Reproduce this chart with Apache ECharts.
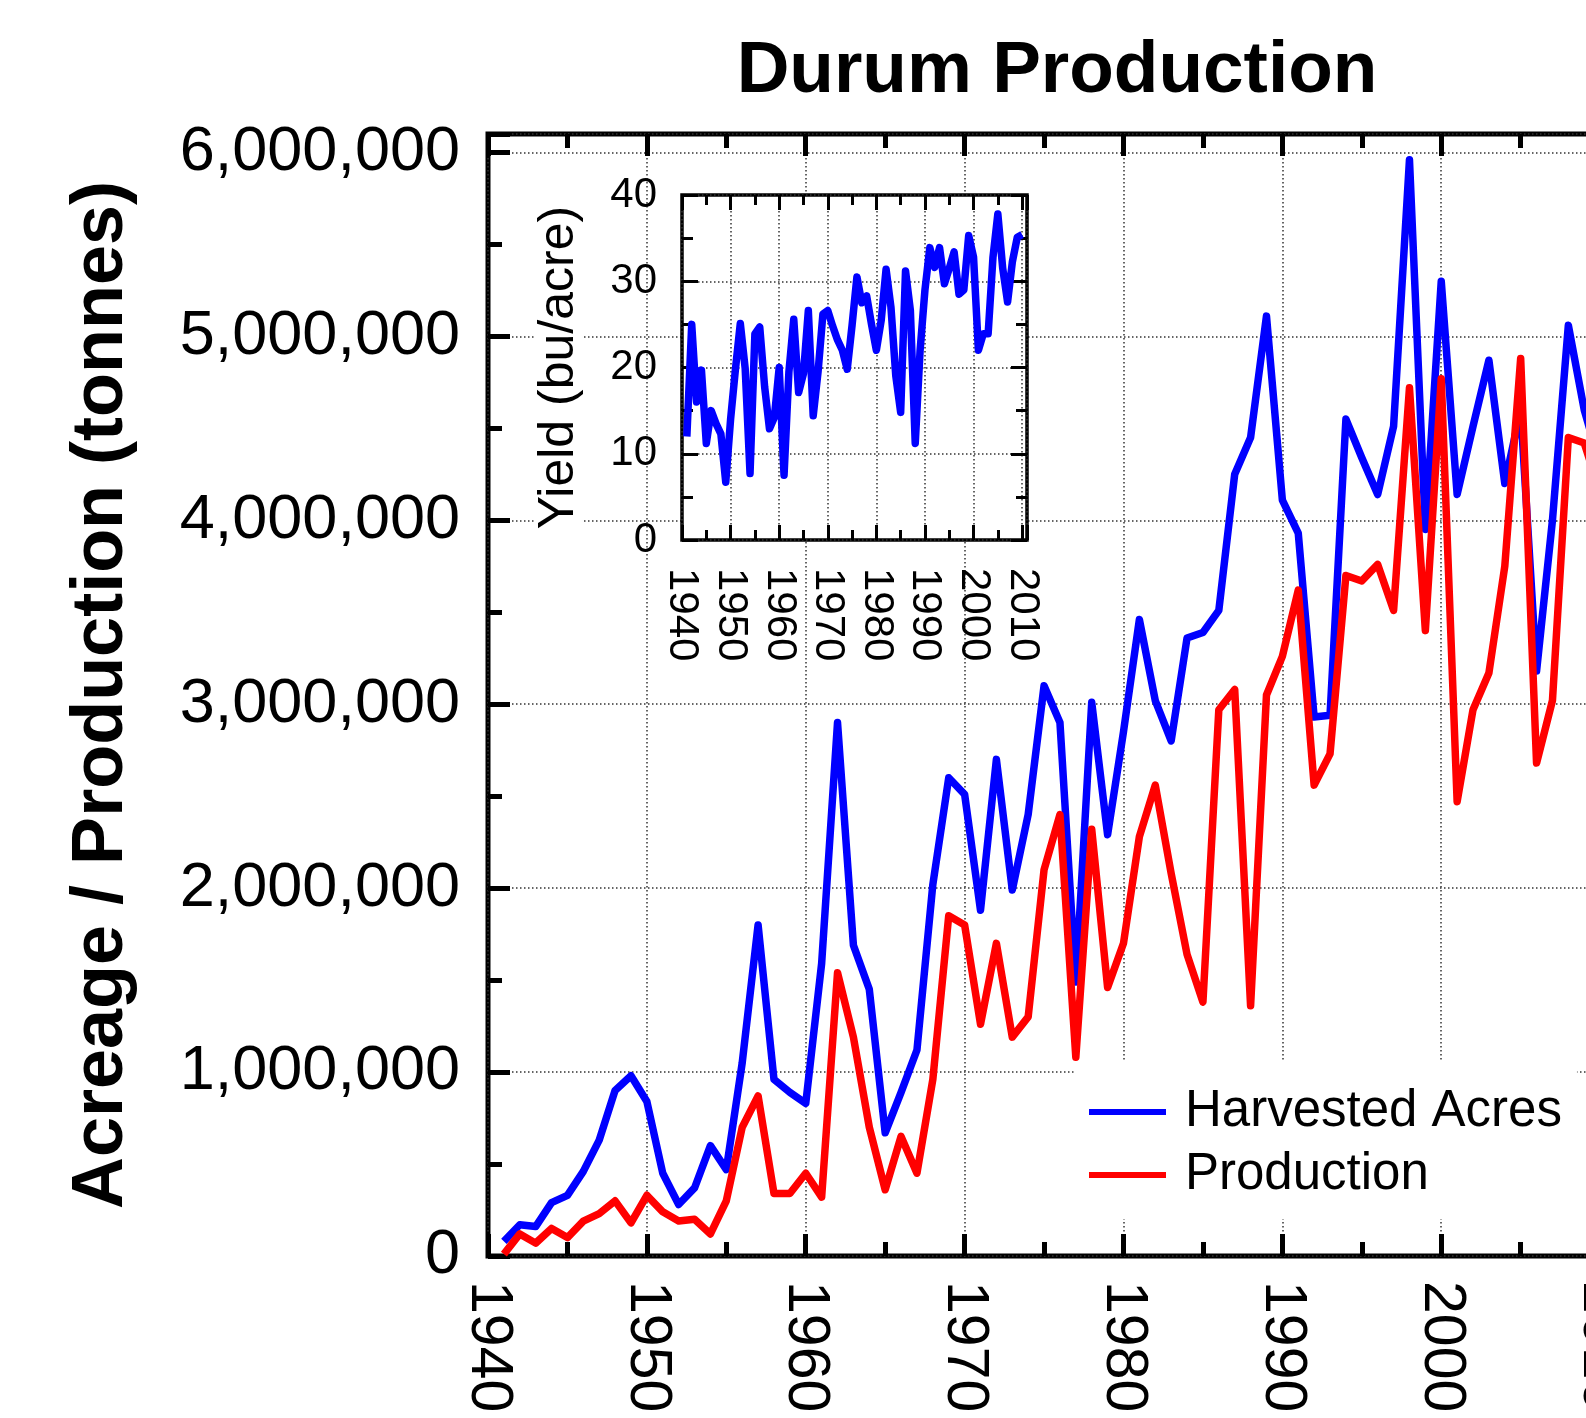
<!DOCTYPE html>
<html>
<head>
<meta charset="utf-8">
<title>Durum Production</title>
<script src="https://cdn.jsdelivr.net/npm/echarts@6/dist/echarts.min.js"></script>
<style>
  html, body { margin: 0; padding: 0; background: #fff; overflow: hidden; }
  /* the plot runs on past the right edge of the window, like the original */
  #chart { width: 1700px; height: 1418px; }
</style>
</head>
<body>
<div id="chart"></div>
<script>
var years = [
  1941, 1942, 1943, 1944, 1945, 1946, 1947, 1948, 1949, 1950,
  1951, 1952, 1953, 1954, 1955, 1956, 1957, 1958, 1959, 1960,
  1961, 1962, 1963, 1964, 1965, 1966, 1967, 1968, 1969, 1970,
  1971, 1972, 1973, 1974, 1975, 1976, 1977, 1978, 1979, 1980,
  1981, 1982, 1983, 1984, 1985, 1986, 1987, 1988, 1989, 1990,
  1991, 1992, 1993, 1994, 1995, 1996, 1997, 1998, 1999, 2000,
  2001, 2002, 2003, 2004, 2005, 2006, 2007, 2008, 2009, 2010
];
var harvestedAcres = [
  80000, 170000, 160000, 290000, 330000, 460000, 630000, 900000, 980000, 840000,
  450000, 280000, 370000, 600000, 470000, 1050000, 1800000, 960000, 890000, 830000,
  1590000, 2900000, 1690000, 1450000, 670000, 890000, 1120000, 2020000, 2600000, 2510000,
  1880000, 2700000, 1990000, 2400000, 3100000, 2900000, 1490000, 3010000, 2290000, 2850000,
  3460000, 3020000, 2800000, 3360000, 3390000, 3510000, 4250000, 4450000, 5110000, 4110000,
  3930000, 2930000, 2940000, 4550000, 4340000, 4140000, 4510000, 5960000, 3950000, 5300000,
  4140000, 4510000, 4870000, 4200000, 4600000, 3180000, 4000000, 5060000, 4600000, 4300000
];
var production = [
  10000, 120000, 70000, 150000, 100000, 190000, 230000, 300000, 180000, 330000,
  240000, 190000, 200000, 120000, 300000, 700000, 870000, 340000, 340000, 450000,
  320000, 1540000, 1190000, 700000, 360000, 650000, 450000, 960000, 1850000, 1800000,
  1260000, 1700000, 1190000, 1300000, 2100000, 2400000, 1080000, 2320000, 1460000, 1700000,
  2280000, 2560000, 2080000, 1640000, 1380000, 2970000, 3080000, 1360000, 3050000, 3260000,
  3620000, 2560000, 2730000, 3700000, 3670000, 3760000, 3510000, 4720000, 3400000, 4770000,
  2470000, 2970000, 3170000, 3750000, 4880000, 2680000, 3020000, 4450000, 4420000, 4150000
];
// inset: yield in bu/acre
var yieldBuAcre = [
  12.0, 25.0, 16.0, 19.7, 11.2, 15.0, 13.5, 12.3, 6.7, 14.0,
  19.8, 25.1, 19.9, 7.7, 23.9, 24.7, 17.8, 12.9, 14.2, 20.0,
  7.5, 19.5, 25.6, 17.1, 19.3, 26.6, 14.4, 19.5, 26.2, 26.6,
  24.8, 23.2, 22.0, 19.8, 24.9, 30.5, 27.5, 28.3, 25.0, 22.0,
  25.5, 31.4, 27.0, 19.0, 14.8, 31.2, 26.6, 11.2, 22.0, 29.0,
  33.9, 31.6, 33.9, 29.7, 31.5, 33.4, 28.5, 29.0, 35.3, 32.8,
  22.0, 23.9, 23.9, 32.8, 37.8, 31.5, 27.6, 32.3, 35.1, 35.4
];

var FONT = 'Liberation Sans, Arial, Helvetica, sans-serif';

function pairs(xs, ys) {
  var out = [];
  for (var i = 0; i < xs.length; i++) out.push([xs[i], ys[i]]);
  return out;
}
function commas(v) {
  return String(v).replace(/\B(?=(\d{3})+(?!\d))/g, ',');
}

var gridLine = { show: true, lineStyle: { color: '#333', width: 1.5, type: [1.5, 2.5] } };

// bottom/left axes carry labels, the mirrored ones only carry ticks
function xAxisFor(grid, pos, big, labels) {
  return {
    type: 'value', gridIndex: grid, position: pos,
    min: 1940, max: 2011, interval: 10,
    axisLine: { show: false, onZero: false },
    axisTick: { show: true, inside: true, length: big ? 22 : 15, lineStyle: { color: '#000', width: big ? 5 : 3 } },
    minorTick: { show: true, splitNumber: 2, length: big ? 14 : 10, lineStyle: { color: '#000', width: big ? 5 : 3 } },
    splitLine: labels ? gridLine : { show: false },
    axisLabel: {
      show: labels, rotate: -90, margin: big ? 25 : 28,
      fontSize: big ? 59 : 42, fontFamily: FONT, color: '#000',
      showMaxLabel: false,
      formatter: function (v) { return v % 10 === 0 ? String(v) : ''; }
    },
    z: grid === 1 ? 2 : 0
  };
}

var chart = echarts.init(document.getElementById('chart'));
var option = {
  animation: false,
  backgroundColor: '#fff',
  title: {
    text: 'Durum Production',
    left: 1052, top: 30, textAlign: 'center',
    textStyle: { fontSize: 73, fontWeight: 'bold', fontFamily: FONT, color: '#000' }
  },
  legend: {
    data: ['Harvested Acres', 'Production'],
    orient: 'vertical',
    left: 1075, top: 1061,
    backgroundColor: '#fff',
    padding: [24, 15, 17, 14],
    icon: 'rect', itemWidth: 77, itemHeight: 6, itemGap: 9,
    textStyle: { fontSize: 51, lineHeight: 54, fontFamily: FONT, color: '#000', padding: [0, 0, 0, 14] }
  },
  grid: [
    { left: 488, top: 134, width: 1128, height: 1122, outerBoundsMode: 'none', show: true, borderWidth: 5, borderColor: '#000', backgroundColor: 'transparent', z: 0 },
    { left: 682, top: 195, width: 345, height: 345, outerBoundsMode: 'none', show: true, borderWidth: 3.5, borderColor: '#000', backgroundColor: '#fff', z: 1 }
  ],
  xAxis: [
    xAxisFor(0, 'bottom', true, true),
    xAxisFor(0, 'top', true, false),
    xAxisFor(1, 'bottom', false, true),
    xAxisFor(1, 'top', false, false)
  ],
  yAxis: [
    {
      type: 'value', gridIndex: 0, position: 'left',
      min: 0, max: 6100000, interval: 1000000,
      axisLine: { show: false, onZero: false },
      axisTick: { show: true, inside: true, length: 22, lineStyle: { color: '#000', width: 5 } },
      minorTick: { show: true, splitNumber: 2, length: 14, lineStyle: { color: '#000', width: 5 } },
      splitLine: gridLine,
      axisLabel: {
        margin: 28, fontSize: 63, fontFamily: FONT, color: '#000', showMaxLabel: false,
        formatter: function (v) { return v > 6000000 ? '' : commas(v); }
      },
      name: 'Acreage / Production (tonnes)',
      nameLocation: 'middle', nameRotate: 90, nameGap: 350,
      nameTextStyle: { fontSize: 72, fontWeight: 'bold', fontFamily: FONT, color: '#000' }
    },
    {
      type: 'value', gridIndex: 1, position: 'left',
      min: 0, max: 40, interval: 10,
      axisLine: { show: false, onZero: false },
      axisTick: { show: true, inside: true, length: 16, lineStyle: { color: '#000', width: 3 } },
      minorTick: { show: true, splitNumber: 2, length: 11, lineStyle: { color: '#000', width: 3 } },
      splitLine: gridLine,
      axisLabel: { margin: 25, fontSize: 42, fontFamily: FONT, color: '#000' },
      name: 'Yield (bu/acre)',
      nameLocation: 'middle', nameRotate: 90, nameGap: 98,
      nameTextStyle: { fontSize: 50, fontFamily: FONT, color: '#000', backgroundColor: '#fff', padding: [0, 6, 0, 6] },
      z: 2
    },
    {
      type: 'value', gridIndex: 1, position: 'right',
      min: 0, max: 40, interval: 10,
      axisLine: { show: false, onZero: false },
      axisTick: { show: true, inside: true, length: 16, lineStyle: { color: '#000', width: 3 } },
      minorTick: { show: true, splitNumber: 2, length: 11, lineStyle: { color: '#000', width: 3 } },
      splitLine: { show: false },
      axisLabel: { show: false },
      z: 2
    }
  ],
  series: [
    {
      name: 'Harvested Acres', type: 'line', xAxisIndex: 0, yAxisIndex: 0,
      data: pairs(years, harvestedAcres), symbol: 'none',
      lineStyle: { color: '#0000ff', width: 7.5, join: 'round' },
      itemStyle: { color: '#0000ff' }, z: 2
    },
    {
      name: 'Production', type: 'line', xAxisIndex: 0, yAxisIndex: 0,
      data: pairs(years, production), symbol: 'none',
      lineStyle: { color: '#ff0000', width: 7.5, join: 'round' },
      itemStyle: { color: '#ff0000' }, z: 3
    },
    {
      name: 'Yield', type: 'line', xAxisIndex: 2, yAxisIndex: 1,
      data: pairs(years, yieldBuAcre), symbol: 'none',
      lineStyle: { color: '#0000ff', width: 7.5, join: 'round' },
      itemStyle: { color: '#0000ff' }, z: 5
    }
  ]
};
chart.setOption(option);
</script>
</body>
</html>
